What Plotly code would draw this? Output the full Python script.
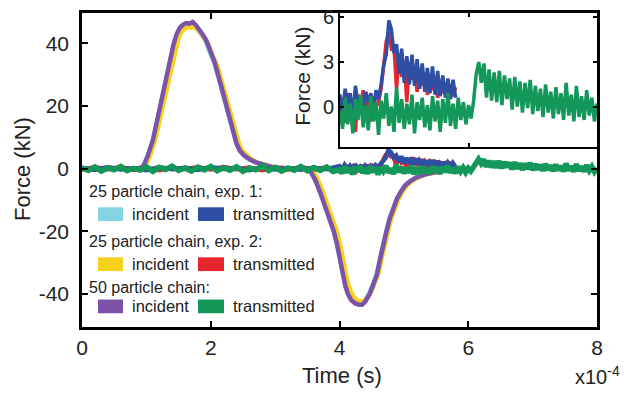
import plotly.graph_objects as go

# ---------------- data (time in units of 1e-4 s, force in kN) ----------------
# incident pulses (incident + reflected)
t_incident = [0.0, 0.5, 0.9, 0.95, 1.02, 1.10, 1.18, 1.26, 1.32, 1.37, 1.42, 1.47, 1.52, 1.57, 1.62,
              1.67, 1.72, 1.77, 1.82, 1.87, 1.93, 2.00, 2.06, 2.14, 2.20, 2.25, 2.30, 2.35, 2.40, 2.45,
              2.52, 2.61, 2.70, 2.81, 2.97, 3.20, 3.45, 3.54, 3.62, 3.70, 3.78, 3.85, 3.91, 3.96, 4.01,
              4.05, 4.09, 4.13, 4.18, 4.24, 4.30, 4.35, 4.40, 4.47, 4.53, 4.58, 4.63, 4.68, 4.73, 4.78,
              4.84, 4.89, 4.95, 5.02, 5.10, 5.20, 5.32, 5.45, 5.60, 5.80, 6.00]
f_purple = [0.0, 0.0, 0.2, 0.6, 4.0, 9.0, 16.5, 25.0, 30.5, 35.0, 39.5, 43.0, 45.0, 46.0, 46.5,
            46.3, 46.8, 45.8, 44.5, 43.0, 41.0, 37.0, 34.0, 28.0, 23.5, 19.5, 15.0, 11.0, 8.0, 5.8,
            4.2, 2.9, 2.0, 1.3, 0.4, 0.0, 0.0, -0.5, -3.5, -7.6, -12.0, -16.0, -20.0, -24.0, -29.0,
            -34.0, -37.5, -40.0, -42.0, -43.0, -43.5, -43.5, -42.5, -40.0, -37.0, -34.0, -29.0, -24.0, -20.0, -16.0,
            -12.5, -9.8, -7.5, -5.4, -4.0, -2.8, -1.9, -1.2, -0.6, -0.2, 0.0]
f_cyan = [0.0, 0.0, 0.2, 0.6, 3.9, 8.8, 16.2, 24.6, 30.0, 34.5, 39.0, 42.4, 44.3, 45.3, 45.8,
          45.6, 46.0, 45.1, 43.8, 42.3, 40.3, 36.4, 33.5, 27.6, 23.1, 19.2, 14.8, 10.8, 7.9, 5.7,
          4.1, 2.8, 2.0, 1.3, 0.4, 0.0, 0.0, -0.5, -3.4, -7.5, -11.8, -15.8, -19.7, -23.7, -28.6,
          -33.5, -37.0, -39.4, -41.4, -42.4, -42.9, -42.9, -41.9, -39.4, -36.5, -33.5, -28.6, -23.7, -19.7, -15.8,
          -12.3, -9.7, -7.4, -5.3, -3.9, -2.8, -1.9, -1.2, -0.6, -0.2, 0.0]
t_yellow = [0.0, 0.5, 0.93, 0.98, 1.05, 1.13, 1.21, 1.29, 1.35, 1.40, 1.45, 1.50, 1.55, 1.60, 1.65,
            1.70, 1.75, 1.80, 1.85, 1.90, 1.96, 2.03, 2.10, 2.18, 2.24, 2.29, 2.34, 2.39, 2.44, 2.49,
            2.56, 2.64, 2.73, 2.84, 3.00, 3.20, 3.48, 3.58, 3.66, 3.74, 3.82, 3.89, 3.95, 4.00, 4.05,
            4.09, 4.13, 4.17, 4.22, 4.27, 4.32, 4.37, 4.43, 4.50, 4.56, 4.61, 4.66, 4.71, 4.76, 4.81,
            4.87, 4.92, 4.98, 5.05, 5.13, 5.23, 5.35, 5.48, 5.63, 5.82, 6.00]
f_yellow = [0.0, 0.0, 0.2, 0.6, 3.8, 8.6, 15.8, 24.0, 29.5, 34.0, 38.5, 41.8, 43.8, 44.8, 45.2,
            45.0, 45.3, 44.5, 43.2, 41.8, 39.8, 36.0, 33.0, 27.2, 22.8, 18.9, 14.6, 10.8, 7.9, 5.7,
            4.1, 2.8, 1.9, 1.2, 0.4, 0.0, 0.0, -0.5, -3.3, -7.3, -11.6, -15.5, -19.5, -23.4, -28.3,
            -33.2, -36.6, -39.0, -41.0, -42.0, -42.4, -42.4, -41.5, -39.0, -36.1, -33.2, -28.3, -23.4, -19.5, -15.6,
            -12.2, -9.6, -7.3, -5.3, -3.9, -2.7, -1.8, -1.1, -0.6, -0.2, 0.0]

# transmitted signals: coarse samples before 4e-4 s, fine samples after
coarse_start_25, coarse_step_25 = 0.0, 0.2
fine_start, fine_step = 4.0, 0.04
coarse_start_50, coarse_step_50 = 0.0, 0.1

blue_coarse = [0.2, -0.4, 0.5, -0.3, 0.1, -0.5, 0.4, -0.2, 0.3, -0.4, 0.5, -0.1, 0.2, -0.5, 0.4,
               -0.3, 0.1, -0.4, 0.3, -0.2]
blue_fine = [0.8, -0.5, 1.2, 0.1, 0.9, -0.8, 1.4, 0.2, 0.7, -0.6, 1.0, 0.3, 0.9, -0.4, 1.1, 0.5,
             1.5, 2.8, 3.5, 5.8, 5.2, 3.6, 4.2, 2.2, 3.9, 1.6, 3.4, 1.5, 3.5, 1.4, 3.2, 1.2, 2.9, 1.0,
             2.6, 0.9, 2.7, 0.8, 2.4, 0.7, 2.1, 0.6, 1.9, 0.5, 1.8, 0.6]
red_coarse = [-0.3, 0.4, -0.2, 0.5, -0.4, 0.2, -0.5, 0.3, -0.1, 0.4, -0.3, 0.5, -0.2, 0.3, -0.5,
              0.1, -0.3, 0.4, -0.2, 0.3]
red_fine = [-0.9, 0.6, -1.1, 0.9, -0.3, 0.5, -1.7, 0.8, -0.2, 1.1, -0.6, 0.4, -1.0, 0.7, 0.0, 0.3,
            1.2, 3.0, 4.4, 5.0, 3.9, 4.0, 1.2, 3.6, 2.0, 3.1, 0.3, 3.0, 1.8, 2.7, 1.0, 2.6, 1.4, 2.3,
            0.8, 2.2, 1.1, 2.0, 0.6, 1.8, 0.9, 1.6, 0.4, 1.5, 0.7, 1.3]
green_coarse = [0.3, -0.6, 0.5, -0.8, 0.2, -0.4, 0.7, -0.7, 0.1, -0.5, 0.6, -0.9, 0.4, -0.3, 0.8,
                -0.6, 0.2, -0.8, 0.5, -0.4, 0.7, -0.7, 0.3, -0.5, 0.6, -0.9, 0.1, -0.4, 0.8, -0.6,
                0.4, -0.8, 0.2, -0.5, 0.7, -0.7, 0.3, -0.6, 0.5, -0.9]
green_fine = [-0.3, -1.5, 0.6, -1.2, 0.2, -1.8, 0.5, -0.9, 0.8, -1.4, 0.1, -1.6, 0.7, -1.0, 0.3,
              -1.9, 0.4, -0.8, 0.9, -1.3, 0.0, -1.7, 1.3, -1.1, 0.5, -1.5, 0.2, -1.2, 0.8, -1.8,
              0.3, -0.9, 0.6, -1.4, 0.1, -1.6, 0.7, -1.0, 0.4, -1.7, 0.5, -1.1, 0.9, -1.3, 0.2,
              -1.5, 0.6, -0.9, 0.3, -1.2, 0.1, -0.8, 0.4,
              2.2, 3.0, 1.6, 2.9, 0.6, 2.5, 0.4, 2.3, 0.3, 2.4, 0.1, 2.1, 0.5, 1.9, -0.2,
              2.0, 0.0, 1.7, -0.4, 1.6, -0.1, 1.8, -0.5, 1.4, -0.3, 1.2, -0.7, 1.5, -0.4, 1.0,
              -0.8, 1.3, -0.5, 0.9, -0.9, 1.6, -0.6, 0.8, -1.0, 1.4, -0.7, 0.7, -0.9, 1.1, -0.6,
              0.6, -1.0, 0.2]

x_ticks = [0, 2, 4, 6, 8]
y_ticks = [-40, -20, 0, 20, 40]
inset_y_ticks = [0, 3, 6]
inset_x_ticks = [6]

groups = [
    ("25 particle chain, exp. 1:", "#86d3e3", "#2e4fa3"),
    ("25 particle chain, exp. 2:", "#f6d21c", "#e5262d"),
    ("50 particle chain:", "#7b54aa", "#14985a"),
]

CYAN, BLUE = groups[0][1], groups[0][2]
YELLOW, RED = groups[1][1], groups[1][2]
PURPLE, GREEN = groups[2][1], groups[2][2]


def sampled(start, step, coarse, fstart, fstep, fine):
    xs = [start + i * step for i in range(len(coarse))] + [fstart + i * fstep for i in range(len(fine))]
    return xs, coarse + fine


t_blue, v_blue = sampled(coarse_start_25, coarse_step_25, blue_coarse, fine_start, fine_step, blue_fine)
t_red, v_red = sampled(coarse_start_25, coarse_step_25, red_coarse, fine_start, fine_step, red_fine)
t_green, v_green = sampled(coarse_start_50, coarse_step_50, green_coarse, fine_start, fine_step, green_fine)

# ---------------- figure ----------------
W, H = 624, 393
L, R, T, B = 82, 597, 7, 327
FONT = "Liberation Sans, Arial, sans-serif"


def px(x):
    return (x - L) / (R - L)


def py(y):
    return (B - y) / (B - T)


fig = go.Figure()

series = [
    (t_incident, f_cyan, CYAN, 4.5),
    (t_yellow, f_yellow, YELLOW, 4.5),
    (t_incident, f_purple, PURPLE, 4.5),
    (t_red, v_red, RED, 4.5),
    (t_blue, v_blue, BLUE, 4.5),
    (t_green, v_green, GREEN, 5.5),
]
for xs, ys, col, w in series:
    fig.add_trace(go.Scatter(x=xs, y=ys, mode="lines", line=dict(color=col, width=w),
                             xaxis="x", yaxis="y", showlegend=False, hoverinfo="skip"))
for xs, ys, col, w in series[3:]:
    fig.add_trace(go.Scatter(x=xs, y=ys, mode="lines", line=dict(color=col, width=3.5),
                             xaxis="x2", yaxis="y2", showlegend=False, hoverinfo="skip"))

axis_common = dict(showgrid=False, zeroline=False, showline=True, linecolor="black",
                   ticks="inside", tickcolor="black", mirror="ticks")

fig.update_layout(
    width=W, height=H,
    margin=dict(l=L, r=W - R, t=T, b=H - B),
    paper_bgcolor="white", plot_bgcolor="white",
    font=dict(family=FONT, color="#222"),
    xaxis=dict(domain=[0, 1], range=[0, 8], tickvals=x_ticks, ticktext=[str(v) for v in x_ticks],
               linewidth=2.5, ticklen=6, tickwidth=2, tickfont=dict(size=21, family=FONT, color="#222"),
               **axis_common),
    yaxis=dict(domain=[0, 1], range=[-50.6, 49.7], tickvals=y_ticks, ticktext=[str(v) for v in y_ticks],
               linewidth=2.5, ticklen=6, tickwidth=2, tickfont=dict(size=21, family=FONT, color="#222"),
               ticklabelstandoff=6, **axis_common),
    xaxis2=dict(domain=[px(340), 1], range=[4, 8], tickvals=inset_x_ticks,
                ticktext=[str(v) for v in inset_x_ticks], showticklabels=False,
                anchor="y2", linewidth=2, ticklen=4, tickwidth=1.5, **axis_common),
    yaxis2=dict(domain=[py(144), 1], range=[-2.75, 6.3], tickvals=inset_y_ticks,
                ticktext=[str(v) for v in inset_y_ticks], anchor="x2", linewidth=2, ticklen=4,
                tickwidth=1.5, tickfont=dict(size=20, family=FONT, color="#222"), **axis_common),
)

ann = []
shapes = []
# axis titles
ann.append(dict(text="Force (kN)", x=px(22), y=py(166), textangle=-90, font=dict(size=22)))
ann.append(dict(text="Time (s)", x=px(342), y=py(376), font=dict(size=22)))
ann.append(dict(text="x10<sup>-4</sup>", x=px(622), y=py(376), xanchor="right", font=dict(size=20)))
ann.append(dict(text="Force (kN)", x=px(303), y=py(72), textangle=-90, font=dict(size=21)))

# legend drawn as text + swatches
row_title_y = [189, 240, 287]
row_swatch_y = [212, 263, 306]
for (title, c_inc, c_tr), ty, sy in zip(groups, row_title_y, row_swatch_y):
    ann.append(dict(text=title, x=px(87), y=py(ty), xanchor="left", font=dict(size=16)))
    shapes.append(dict(type="rect", x0=px(98), x1=px(123), y0=py(sy + 7), y1=py(sy - 7),
                       fillcolor=c_inc, line=dict(width=0)))
    ann.append(dict(text="incident", x=px(130), y=py(sy), xanchor="left", font=dict(size=16.5)))
    shapes.append(dict(type="rect", x0=px(198), x1=px(224), y0=py(sy + 7), y1=py(sy - 7),
                       fillcolor=c_tr, line=dict(width=0)))
    ann.append(dict(text="transmitted", x=px(231), y=py(sy), xanchor="left", font=dict(size=16.5)))

for a in ann:
    a.setdefault("xanchor", "center")
    a.update(xref="paper", yref="paper", showarrow=False, yanchor="middle")
    a["font"] = dict(family=FONT, color="#222", **a["font"])
for s in shapes:
    s.update(xref="paper", yref="paper")

fig.update_layout(annotations=ann, shapes=shapes)
fig.write_html("out.html")
